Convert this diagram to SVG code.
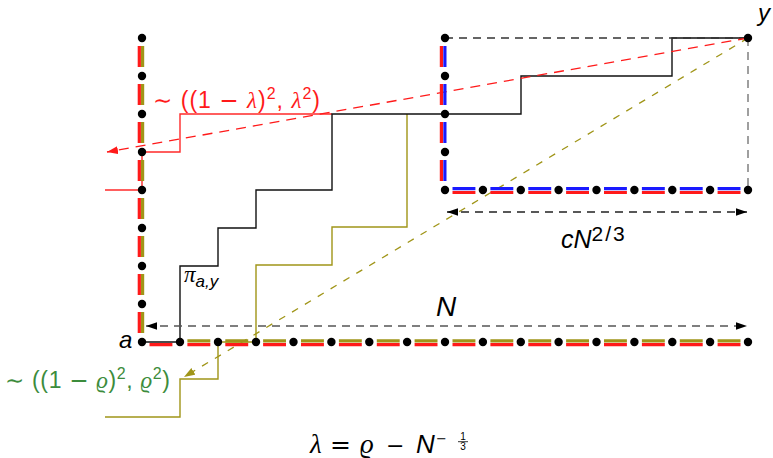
<svg xmlns="http://www.w3.org/2000/svg" width="773" height="458" viewBox="0 0 773 458">
<style>
.st{fill:none;stroke-width:3.2}
.red{stroke:#ff1a1a}
.olv{stroke:#a09518}
.blu{stroke:#1a1aff}
.dot{fill:#000}
.gd{fill:none;stroke:#555;stroke-width:1.4;stroke-dasharray:8 6}
.t{font-family:"Liberation Sans",Arial,sans-serif}
.i{font-style:italic}
.m{font-family:"Liberation Serif","Times New Roman",serif;font-style:italic}
.s{font-family:"DejaVu Sans",sans-serif}
</style>
<defs>
<marker id="ak" markerUnits="userSpaceOnUse" markerWidth="12" markerHeight="8" refX="11" refY="3.75" orient="auto-start-reverse"><path d="M0,0 L11,3.75 L0,7.5 z" fill="#000"/></marker>
<marker id="ar" markerUnits="userSpaceOnUse" markerWidth="12" markerHeight="9" refX="11" refY="4" orient="auto"><path d="M0,0 L11,4 L0,8 z" fill="#ff1a1a"/></marker>
<marker id="ao" markerUnits="userSpaceOnUse" markerWidth="12" markerHeight="9" refX="11" refY="4" orient="auto"><path d="M0,0 L11,4 L0,8 z" fill="#a09518"/></marker>
</defs>

<g id="connectors">
<path d="M105 190H142V152H180V114H332" fill="none" stroke="#ff2a2a" stroke-width="1.4"/>
<path d="M105 417H180V379H218V342H256V265H332V227H407V114" fill="none" stroke="#a09518" stroke-width="1.4"/>
<path d="M142 342H180V266H218V228H256V190H332V114H521V76H672V38H748" fill="none" stroke="#111" stroke-width="1.4"/>
<path d="M445 38H748" class="gd" style="stroke:#333"/>
<path d="M748 38V190" class="gd" style="stroke:#777"/>
<path d="M146 326H747" class="gd" marker-start="url(#ak)" marker-end="url(#ak)"/>
<path d="M447 212H747" class="gd" style="stroke:#222" marker-start="url(#ak)" marker-end="url(#ak)"/>
<path d="M748 38L107 152" fill="none" stroke="#ff1a1a" stroke-width="1.3" stroke-dasharray="10 7" marker-end="url(#ar)"/>
<path d="M748 38L184 377" fill="none" stroke="#a09518" stroke-width="1.3" stroke-dasharray="7 8" marker-end="url(#ao)"/>
</g>

<g id="stripes">
<path class="st red" d="M139.3 46V67M139.3 84V105M139.3 122V143M139.3 160V181M139.3 198V219M139.3 236V257M139.3 274V295M139.3 312V333"/>
<path class="st olv" d="M142.6 46V67M142.6 84V105M142.6 122V143M142.6 160V181M142.6 198V219M142.6 236V257M142.6 274V295M142.6 312V333"/>
<path class="st red" d="M149.5 344.6h22.9M187.4 344.6h22.9M225.3 344.6h22.9M263.1 344.6h22.9M301 344.6h22.9M338.9 344.6h22.9M376.8 344.6h22.9M414.6 344.6h22.9M452.5 344.6h22.9M490.4 344.6h22.9M528.3 344.6h22.9M566.1 344.6h22.9M604 344.6h22.9M641.9 344.6h22.9M679.8 344.6h22.9M717.6 344.6h22.9"/>
<path class="st olv" d="M187.4 340.8h22.9M225.3 340.8h22.9M263.1 340.8h22.9M301 340.8h22.9M338.9 340.8h22.9M376.8 340.8h22.9M414.6 340.8h22.9M452.5 340.8h22.9M490.4 340.8h22.9M528.3 340.8h22.9M566.1 340.8h22.9M604 340.8h22.9M641.9 340.8h22.9M679.8 340.8h22.9M717.6 340.8h22.9"/>
<path class="st red" d="M441.4 46V67M441.4 84V105M441.4 122V143M441.4 160V181"/>
<path class="st blu" d="M444.9 46V67M444.9 84V105M444.9 122V143M444.9 160V181"/>
<path class="st blu" d="M452.5 188.6h22.9M490.4 188.6h22.9M528.3 188.6h22.9M566.1 188.6h22.9M604 188.6h22.9M641.9 188.6h22.9M679.8 188.6h22.9M717.6 188.6h22.9"/>
<path class="st red" d="M452.5 192.5h22.9M490.4 192.5h22.9M528.3 192.5h22.9M566.1 192.5h22.9M604 192.5h22.9M641.9 192.5h22.9M679.8 192.5h22.9M717.6 192.5h22.9"/>
</g>

<g id="lattice-left" class="dot">
<circle cx="142" cy="38" r="4.2"/><circle cx="142" cy="76" r="4.2"/><circle cx="142" cy="114" r="4.2"/><circle cx="142" cy="152" r="4.2"/><circle cx="142" cy="190" r="4.2"/><circle cx="142" cy="228" r="4.2"/><circle cx="142" cy="266" r="4.2"/><circle cx="142" cy="304" r="4.2"/>
</g>
<g id="node-a">
<circle class="dot" cx="142" cy="342" r="4.2"/>
<text class="t i" x="119" y="348" font-size="24">a</text>
</g>
<g id="lattice-bottom" class="dot">
<circle cx="180" cy="342" r="4.2"/><circle cx="218" cy="342" r="4.2"/><circle cx="256" cy="342" r="4.2"/><circle cx="293.5" cy="342" r="4.2"/><circle cx="331.4" cy="342" r="4.2"/><circle cx="369.3" cy="342" r="4.2"/><circle cx="407.1" cy="342" r="4.2"/><circle cx="445" cy="342" r="4.2"/><circle cx="482.9" cy="342" r="4.2"/><circle cx="520.8" cy="342" r="4.2"/><circle cx="558.6" cy="342" r="4.2"/><circle cx="596.5" cy="342" r="4.2"/><circle cx="634.4" cy="342" r="4.2"/><circle cx="672.3" cy="342" r="4.2"/><circle cx="710.1" cy="342" r="4.2"/><circle cx="748" cy="342" r="4.2"/>
</g>
<g id="box" class="dot">
<circle cx="445" cy="38" r="4.2"/><circle cx="445" cy="76" r="4.2"/><circle cx="445" cy="114" r="4.2"/><circle cx="445" cy="152" r="4.2"/><circle cx="445" cy="190" r="4.2"/>
<circle cx="482.9" cy="190" r="4.2"/><circle cx="520.8" cy="190" r="4.2"/><circle cx="558.6" cy="190" r="4.2"/><circle cx="596.5" cy="190" r="4.2"/><circle cx="634.4" cy="190" r="4.2"/><circle cx="672.3" cy="190" r="4.2"/><circle cx="710.1" cy="190" r="4.2"/><circle cx="748" cy="190" r="4.2"/>
</g>
<g id="node-y">
<circle class="dot" cx="748" cy="38" r="4.2"/>
<text class="t i" x="758" y="21" font-size="24">y</text>
</g>

<g id="labels">
<text x="153" y="108" font-size="23" fill="#ff1a1a" class="t" textLength="167" lengthAdjust="spacing"><tspan class="s">∼</tspan> ((1 <tspan class="s">−</tspan> <tspan class="m">λ</tspan>)<tspan font-size="16" dy="-9">2</tspan><tspan dy="9">, </tspan><tspan class="m">λ</tspan><tspan font-size="16" dy="-9">2</tspan><tspan dy="9">)</tspan></text>
<text x="5" y="388" font-size="23" fill="#3c8c3c" class="t" textLength="165" lengthAdjust="spacing"><tspan class="s">∼</tspan> ((1 <tspan class="s">−</tspan> <tspan class="m">ϱ</tspan>)<tspan font-size="16" dy="-9">2</tspan><tspan dy="9">, </tspan><tspan class="m">ϱ</tspan><tspan font-size="16" dy="-9">2</tspan><tspan dy="9">)</tspan></text>
<text x="184" y="282" font-size="23" class="m" fill="#000">π<tspan class="t i" font-size="17" dy="5">a,y</tspan></text>
<text x="436" y="316" font-size="28" class="t i">N</text>
<text x="561" y="248" font-size="25" class="t i">cN<tspan font-size="21" font-style="normal" dy="-7" letter-spacing="2">2/3</tspan></text>
<text x="310" y="453" font-size="27" class="m">λ</text>
<text x="330" y="453" font-size="25" class="s">=</text>
<text x="360" y="453" font-size="27" class="m">ϱ</text>
<text x="386" y="453" font-size="22" class="s">−</text>
<text x="416" y="453" font-size="26" class="t i">N</text>
<text x="436" y="443" font-size="13" class="s">−</text>
<text x="463" y="440" font-size="10" class="t" text-anchor="middle">1</text>
<path d="M458 441.7H468" stroke="#000" stroke-width="0.8"/>
<text x="463" y="450" font-size="10" class="t" text-anchor="middle">3</text>
</g>
</svg>
